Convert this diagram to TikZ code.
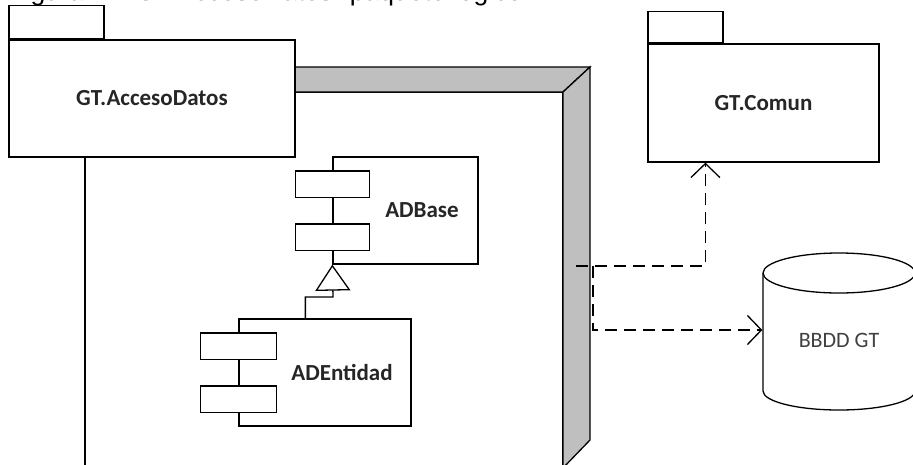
\documentclass[tikz,border=0pt]{standalone}
\usepackage{fontspec}
\setmainfont{Carlito}
\newfontfamily\capfont{Liberation Sans}
\usetikzlibrary{arrows.meta, calc}

\begin{document}
\begin{tikzpicture}[
        x=1pt, y=-1pt,
        line width=1.3pt,
        font=\fontsize{22}{26}\selectfont,
        pkg/.style={draw, fill=white, inner sep=0pt, font=\fontsize{23}{27}\selectfont\bfseries, text=black!85},
        tab/.style={draw, fill=white, inner sep=0pt, anchor=south west},
        comp/.style={draw, fill=white, inner sep=0pt, minimum height=107pt},
        port/.style={draw, fill=white, inner sep=0pt, minimum height=26.5pt, anchor=north},
        cname/.style={inner sep=0pt, font=\fontsize{23}{27}\selectfont\bfseries, text=black!85},
        side3d/.style={draw, fill=black!25},
        gen/.style={-{Triangle[open, length=26pt, width=35pt]}},
        dep/.style={dash pattern=on 12pt off 7pt, -{Straight Barb[length=14pt, width=29pt]}}
    ]
        \useasboundingbox (0,0) rectangle (913,464);

        % caption, cut by the top edge
        \node[anchor=base west, inner sep=0pt, font=\capfont\fontsize{26.5}{30}\selectfont] (caption) at (8,0.5) {Figura 4 – GT.AccesoDatos: paquete lógico};

        % body of the package
        \draw[fill=white] (85,92) rectangle (563,468);
        \draw[side3d] (85,92) -- (110,67) -- (590,67) -- (563,92) -- cycle;
        \draw[side3d] (563,92) -- (590,67) -- (590,440) -- (563,468) -- cycle;

        \node[pkg, minimum width=286pt, minimum height=117pt] (acceso) at (152,98.5) {GT.AccesoDatos};
        \node[tab, minimum width=95pt, minimum height=33pt] (accesoTab) at (acceso.north west) {};
        \node[pkg, minimum width=231pt, minimum height=118pt] (comun) at (763.5,103) {GT.Comun};
        \node[tab, minimum width=75pt, minimum height=31pt] (comunTab) at (comun.north west) {};

        % components
        \node[comp, minimum width=145pt] (adbase) at (405.5,210.5) {};
        \node[port, minimum width=74pt] (adbaseA) at ([yshift=-14pt]adbase.north west) {};
        \node[port, minimum width=74pt] (adbaseB) at ([yshift=-67pt]adbase.north west) {};
        \node[cname] (adbaseN) at ([xshift=16.5pt]adbase.center) {ADBase};

        \node[comp, minimum width=172pt] (adent) at (325,372.5) {};
        \node[port, minimum width=76pt] (adentA) at ([yshift=-14pt]adent.north west) {};
        \node[port, minimum width=76pt] (adentB) at ([yshift=-67pt]adent.north west) {};
        \node[cname] (adentN) at ([xshift=17pt]adent.center) {ADEntidad};

        \coordinate (genBend) at (333,297);
        \draw[gen] ([xshift=67pt]adent.north west) |- (genBend) -- (adbase.south west);

        % database
        \draw[fill=white] (763,273) -- (763,391) arc[start angle=180, end angle=0, x radius=76, y radius=19] -- (915,273);
        \draw[fill=white] (839,273) ellipse[x radius=76, y radius=20];
        \node[inner sep=0pt, minimum width=152pt, text=black!75] (db) at (839,340) {BBDD GT};

        % dependencies
        \coordinate (depSrc) at (576,266);
        \coordinate (depFork) at (593,266);
        \draw[dep] (depSrc) -| ($(comun.south west)!0.25!(comun.south east)$);
        \draw[dep] (depFork) |- ([yshift=10pt]db.west);
    \end{tikzpicture}
\end{document}
